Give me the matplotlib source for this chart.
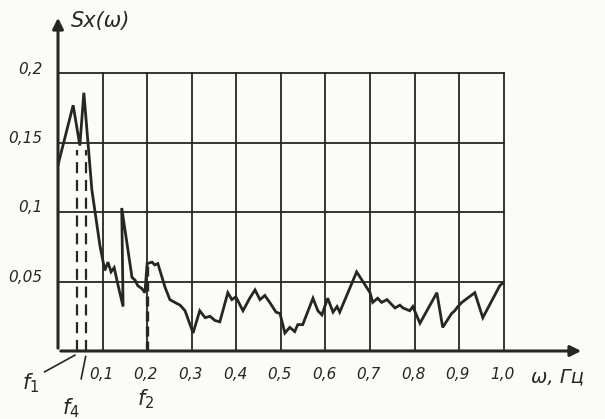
import matplotlib
matplotlib.use("Agg")
import matplotlib.pyplot as plt

# spectral density curve S_x(omega)
freq = [0.0, 0.034, 0.049, 0.058, 0.076, 0.094, 0.105, 0.112, 0.119, 0.126, 0.135,
        0.146, 0.143, 0.166, 0.173, 0.179, 0.188, 0.195, 0.200, 0.211, 0.217, 0.224,
        0.240, 0.251, 0.262, 0.274, 0.285, 0.303, 0.318, 0.330, 0.341, 0.352, 0.363,
        0.381, 0.390, 0.399, 0.415, 0.430, 0.442, 0.453, 0.464, 0.475, 0.489, 0.498,
        0.509, 0.520, 0.531, 0.538, 0.549, 0.572, 0.583, 0.592, 0.605, 0.617, 0.626,
        0.632, 0.670, 0.700, 0.706, 0.717, 0.726, 0.738, 0.756, 0.767, 0.774, 0.789,
        0.796, 0.812, 0.850, 0.863, 0.883, 0.890, 0.897, 0.906, 0.935, 0.953, 0.991,
        0.998]
sx = [0.134, 0.177, 0.148, 0.186, 0.116, 0.076, 0.058, 0.064, 0.057, 0.060, 0.047,
      0.032, 0.103, 0.053, 0.051, 0.047, 0.045, 0.042, 0.063, 0.064, 0.062, 0.063,
      0.046, 0.037, 0.035, 0.033, 0.029, 0.013, 0.029, 0.024, 0.025, 0.022, 0.021,
      0.042, 0.037, 0.039, 0.029, 0.038, 0.044, 0.037, 0.040, 0.035, 0.028, 0.027,
      0.013, 0.017, 0.014, 0.019, 0.019, 0.038, 0.029, 0.026, 0.038, 0.028, 0.032,
      0.028, 0.057, 0.042, 0.035, 0.038, 0.035, 0.037, 0.031, 0.033, 0.031, 0.029,
      0.032, 0.020, 0.042, 0.017, 0.027, 0.029, 0.032, 0.035, 0.042, 0.024, 0.047,
      0.049]

x_ticks = [0.1, 0.2, 0.3, 0.4, 0.5, 0.6, 0.7, 0.8, 0.9, 1.0]
x_labels = ["0,1", "0,2", "0,3", "0,4", "0,5", "0,6", "0,7", "0,8", "0,9", "1,0"]
y_ticks = [0.05, 0.1, 0.15, 0.2]
y_labels = ["0,05", "0,1", "0,15", "0,2"]
f1, f4, f2 = 0.043, 0.062, 0.2

ink = "#262626"
fig = plt.figure(figsize=(6.05, 4.19), dpi=100, facecolor="#fbfbf9")
ax = fig.add_axes([58/605, (419-351)/419, (584-58)/605, (351-15)/419])
ax.set_facecolor("#fbfbf9")
ax.set_xlim(0, 1.18)
ax.set_ylim(0, 0.242)
ax.axis("off")

# grid / frame
for xv in x_ticks:
    ax.plot([xv, xv], [0, 0.2], color=ink, lw=1.3, clip_on=False)
for yv in y_ticks:
    ax.plot([0, 1.0], [yv, yv], color=ink, lw=1.3, clip_on=False)

# axes with arrows
ax.annotate("", xy=(1.18, 0), xytext=(0, 0),
            arrowprops=dict(arrowstyle="-|>", color=ink, lw=2.2, mutation_scale=16),
            annotation_clip=False)
ax.annotate("", xy=(0, 0.242), xytext=(0, 0),
            arrowprops=dict(arrowstyle="-|>", color=ink, lw=2.2, mutation_scale=16),
            annotation_clip=False)

# dashed markers
ax.plot([f1, f1], [0, 0.145], color=ink, lw=1.6, ls=(0, (5, 3)))
ax.plot([f4, f4], [0, 0.145], color=ink, lw=1.6, ls=(0, (5, 3)))
ax.plot([f2, f2], [0, 0.063], color=ink, lw=2.4, ls=(0, (3, 1.5)))

# curve
ax.plot(freq, sx, color=ink, lw=2.0, solid_joinstyle="miter")

tfont = dict(family="DejaVu Sans", style="italic", color=ink, fontsize=11)
for xv, lab in zip(x_ticks, x_labels):
    ax.text(xv - 0.003, -0.017, lab, ha="center", va="center", **tfont)
for yv, lab in zip(y_ticks, y_labels):
    ax.text(-0.035, yv + 0.003, lab, ha="right", va="center", **tfont)

ax.text(0.03, 0.238, "Sx(ω)", ha="left", va="center", fontsize=15,
        family="DejaVu Sans", style="italic", color=ink)
ax.text(1.06, -0.019, "ω, Гц", ha="left", va="center", fontsize=14,
        family="DejaVu Sans", style="italic", color=ink)

ax.text(-0.062, -0.023, r"$\mathit{f}_{1}$", ha="center", va="center", fontsize=15, color=ink)
ax.plot([-0.03, 0.038], [-0.015, -0.003], color=ink, lw=1.2, clip_on=False)

ax.text(0.028, -0.041, r"$\mathit{f}_{4}$", ha="center", va="center", fontsize=15, color=ink)
ax.plot([0.052, 0.062], [-0.02, -0.004], color=ink, lw=1.2, clip_on=False)

ax.text(0.196, -0.035, r"$\mathit{f}_{2}$", ha="center", va="center", fontsize=15, color=ink)

fig.savefig("out.png", dpi=100, facecolor=fig.get_facecolor())
